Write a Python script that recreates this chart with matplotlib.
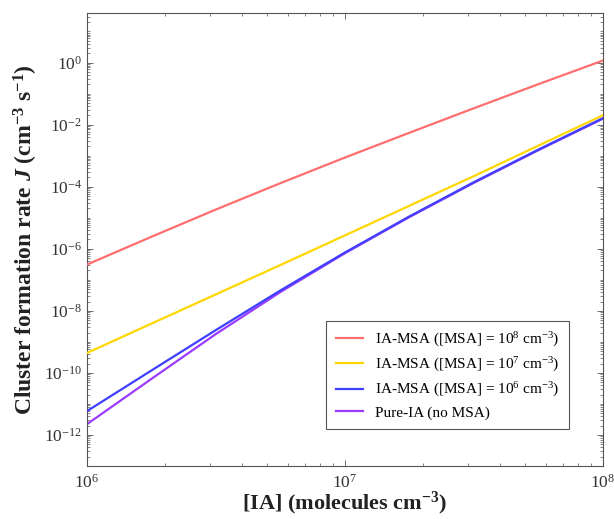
import numpy as np
import matplotlib
matplotlib.use('Agg')
import matplotlib.pyplot as plt
from matplotlib.ticker import FixedLocator, LogLocator, FuncFormatter, NullFormatter

plt.rcParams['font.family'] = 'Liberation Serif'
plt.rcParams['mathtext.fontset'] = 'custom'
plt.rcParams['mathtext.rm'] = 'Liberation Serif'
plt.rcParams['mathtext.it'] = 'Liberation Serif:italic'
plt.rcParams['mathtext.bf'] = 'Liberation Serif:bold'
plt.rcParams['mathtext.bfit'] = 'Liberation Serif:italic:bold'

# [IA] in molecules cm^-3
ia = [1e6, 1.78e6, 3.16e6, 5.62e6, 1e7, 1.78e7, 3.16e7, 5.62e7, 1e8]

# cluster formation rate J (cm^-3 s^-1)
j_msa8 = [3.1e-7, 2.45e-6, 1.84e-5, 1.30e-4, 8.7e-4, 5.5e-3, 3.37e-2, 0.201, 1.16]
j_msa7 = [4.4e-10, 3.9e-9, 3.4e-8, 3.0e-7, 2.7e-6, 2.45e-5, 2.2e-4, 2.1e-3, 2.0e-2]
j_msa6 = [5.9e-12, 1.21e-10, 2.41e-9, 4.55e-8, 7.6e-7, 1.11e-5, 1.40e-4, 1.57e-3, 1.62e-2]
j_pure = [2.24e-12, 6.5e-11, 1.80e-9, 4.05e-8, 7.2e-7, 1.06e-5, 1.33e-4, 1.50e-3, 1.55e-2]

labels = [r'IA-MSA ([MSA] = 10$^{8}$ cm$^{-3}$)',
          r'IA-MSA ([MSA] = 10$^{7}$ cm$^{-3}$)',
          r'IA-MSA ([MSA] = 10$^{6}$ cm$^{-3}$)',
          'Pure-IA (no MSA)']
colors = ['#FF6E6E', '#FFD700', '#3F3FFF', '#9B3BFF']

fig = plt.figure(figsize=(6.14, 5.19), dpi=100)
ax = fig.add_axes([0.1417, 0.102, 0.8403, 0.872])

# pure-IA first so the 10^6 curve sits on top where they overlap
ax.plot(ia, j_pure, color=colors[3], lw=1.6, label=labels[3], zorder=2)
ax.plot(ia, j_msa8, color=colors[0], lw=1.6, label=labels[0], zorder=3)
ax.plot(ia, j_msa7, color=colors[1], lw=1.6, label=labels[1], zorder=3)
ax.plot(ia, j_msa6, color=colors[2], lw=1.6, label=labels[2], zorder=3)

ax.set_xscale('log')
ax.set_yscale('log')
ax.set_xlim(1e6, 1e8)
ax.set_ylim(1e-13, 10**1.58)

tick_col = '#333333'
ax.xaxis.set_major_locator(FixedLocator([1e6, 1e7, 1e8]))
ax.xaxis.set_minor_locator(LogLocator(base=10, subs=np.arange(2, 10), numticks=20))
ax.xaxis.set_minor_formatter(NullFormatter())
ax.yaxis.set_major_locator(FixedLocator([10.0**k for k in range(-12, 1, 2)]))
ax.yaxis.set_minor_locator(LogLocator(base=10, subs=np.arange(1, 10), numticks=40))
ax.yaxis.set_minor_formatter(NullFormatter())
fmt = FuncFormatter(lambda v, p: r'$\mathdefault{10^{%d}}$' % int(round(np.log10(v))))
ax.xaxis.set_major_formatter(fmt)
ax.yaxis.set_major_formatter(fmt)

ax.tick_params(which='both', direction='in', top=True, right=True, colors='#555555',
               labelcolor=tick_col, labelsize=12.5)
ax.tick_params(which='major', length=4, width=0.6)
ax.tick_params(which='minor', length=2, width=0.5)
ax.tick_params(axis='x', pad=5.5)
for s in ax.spines.values():
    s.set_color('#555555')
    s.set_linewidth(0.8)

ax.set_xlabel(r'[IA] (molecules cm$^{\mathbf{-3}}$)', fontsize=16, fontweight='bold',
              color='#222222', labelpad=-1)
ax.set_ylabel(r'Cluster formation rate $\mathbfit{J}$ (cm$^{\mathbf{-3}}$ s$^{\mathbf{-1}}$)',
              fontsize=17, fontweight='bold', color='#222222', labelpad=3)

handles, labs = ax.get_legend_handles_labels()
order = [1, 2, 3, 0]
leg = ax.legend([handles[i] for i in order], [labs[i] for i in order],
                loc='lower right', bbox_to_anchor=(0.934, 0.082), borderaxespad=0,
                fontsize=11, frameon=True, fancybox=False, edgecolor='#555555',
                framealpha=1, handlelength=1.8, labelspacing=0.45, borderpad=0.6,
                handletextpad=0.8)
leg.get_frame().set_linewidth(0.8)

fig.savefig('out.png', dpi=100)
